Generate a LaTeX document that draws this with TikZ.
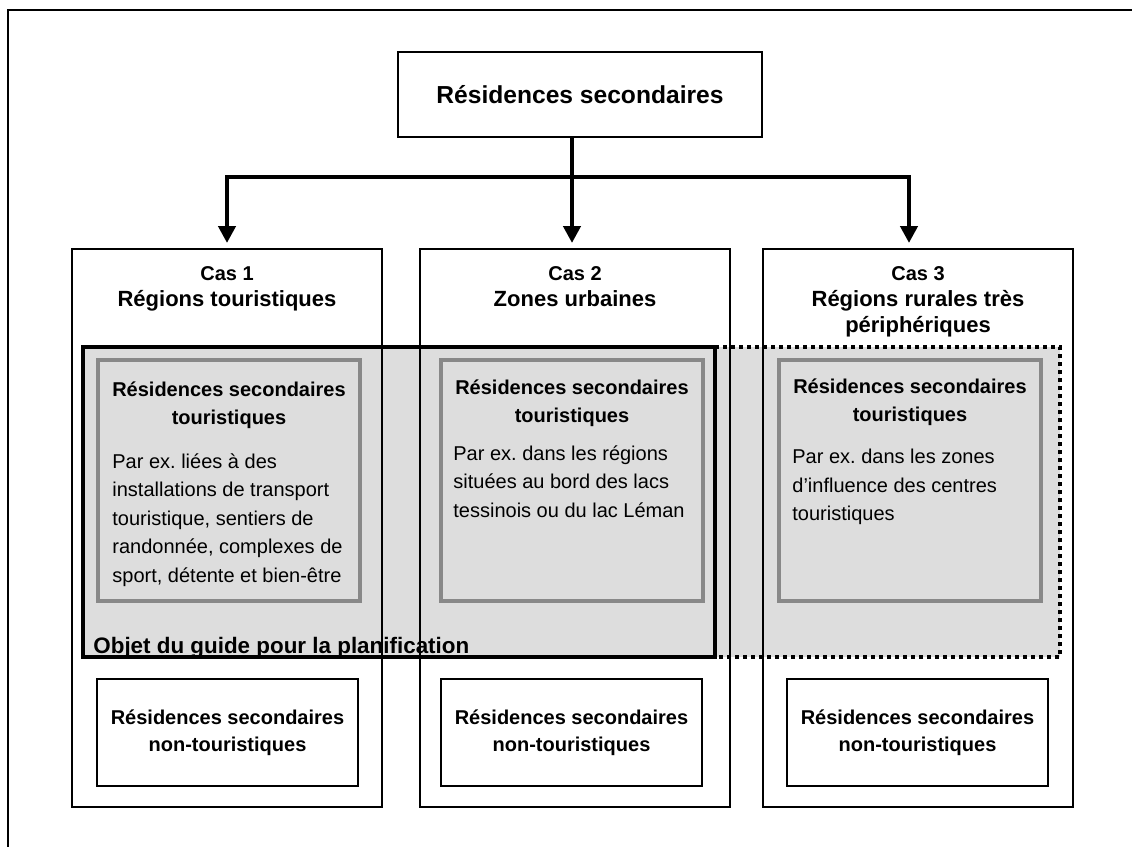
\documentclass[tikz,border=0pt]{standalone}
\usepackage{fontspec}
\setmainfont{Liberation Sans}
\usetikzlibrary{arrows.meta}
\definecolor{lightgrey}{HTML}{DDDDDD}
\definecolor{midgrey}{HTML}{888888}
\frenchspacing
\begin{document}
\begin{tikzpicture}[x=0.5pt, y=-0.5pt,
    top node/.style={draw, line width=0.75pt, minimum width=182pt, minimum height=42.5pt, font=\fontsize{12.3}{14}\selectfont\bfseries},
    case node/.style={draw, line width=0.75pt, minimum width=155pt, minimum height=279pt},
    case title/.style={anchor=north, inner sep=0pt, align=center, font=\fontsize{11}{13}\selectfont\bfseries},
    objet node/.style={draw, line width=2pt, outer sep=0pt, minimum width=316pt, minimum height=155pt},
    inner node/.style={draw=midgrey, line width=2pt, fill=lightgrey, minimum width=131pt, minimum height=120.5pt},
    inner title/.style={anchor=north, inner sep=0pt, align=center, font=\fontsize{10}{14}\selectfont\bfseries},
    body text/.style={anchor=north west, inner sep=0pt, align=left, font=\fontsize{10}{14.25}\selectfont},
    nontour node/.style={draw, line width=1pt, minimum width=130.5pt, minimum height=53.5pt, align=center, font=\fontsize{10}{13.5}\selectfont\bfseries},
    arr/.style={line width=2.3pt, -{Triangle[width=8.5pt,length=8.5pt]}}]

    \useasboundingbox (0,0) rectangle (1132,847);
    \draw[line width=1pt] (1132,10) -- (8,10) -- (8,847);

    \node[top node] at (580,94.5) (rs) {Résidences secondaires};

    % zone grise
    \fill[lightgrey] (83,347) rectangle (1060,657);

    \node[case node] at (227,528) (c1) {};
    \node[case node] at (575,528) (c2) {};
    \node[case node] at (918,528) (c3) {};

    \node[case title] at (227,266) (t1) {{\fontsize{10}{13}\selectfont Cas 1}\\Régions touristiques};
    \node[case title] at (575,266) (t2) {{\fontsize{10}{13}\selectfont Cas 2}\\Zones urbaines};
    \node[case title] at (918,266) (t3) {{\fontsize{10}{13}\selectfont Cas 3}\\Régions rurales très\\périphériques};

    \coordinate (a1) at (227,243);
    \coordinate (a2) at (572,243);
    \coordinate (a3) at (909,243);
    \coordinate (bar) at (572,177);
    \draw[arr] (rs.south -| a2) -- (a2);
    \draw[arr] (bar) -| (a1);
    \draw[arr] (bar) -| (a3);

    \node[objet node] at (399,502) (obj) {};
    \coordinate (ext ne) at (1060,347);
    \coordinate (ext se) at (1060,657);
    \draw[line width=2pt, dash pattern=on 2pt off 2pt] (obj.north east) -- (ext ne) -- (ext se) -- (obj.south east);
    \node[anchor=base west, inner sep=0pt, font=\fontsize{11.2}{13}\selectfont\bfseries] at (93,653) (objtxt) {Objet du guide pour la planification};

    \node[inner node] at (229,480.5) (i1) {};
    \node[inner node] at (572,480.5) (i2) {};
    \node[inner node] at (910,480.5) (i3) {};

    \node[inner title] at (229,381) (h1) {Résidences secondaires\\touristiques};
    \node[inner title] at (572,379) (h2) {Résidences secondaires\\touristiques};
    \node[inner title] at (910,378) (h3) {Résidences secondaires\\touristiques};

    \node[body text] at (112,453) (b1) {Par ex. liées à des\\installations de transport\\touristique, sentiers de\\randonnée, complexes de\\sport, détente et bien-être};
    \node[body text] at (453,445) (b2) {Par ex. dans les régions\\situées au bord des lacs\\tessinois ou du lac Léman};
    \node[body text] at (792,449) (b3) {Par ex. dans les zones\\d’influence des centres\\touristiques};

    \node[nontour node] at (227.5,732.5) (n1) {Résidences secondaires\\non-touristiques};
    \node[nontour node] at (571.5,732.5) (n2) {Résidences secondaires\\non-touristiques};
    \node[nontour node] at (917.5,732.5) (n3) {Résidences secondaires\\non-touristiques};
\end{tikzpicture}
\end{document}
